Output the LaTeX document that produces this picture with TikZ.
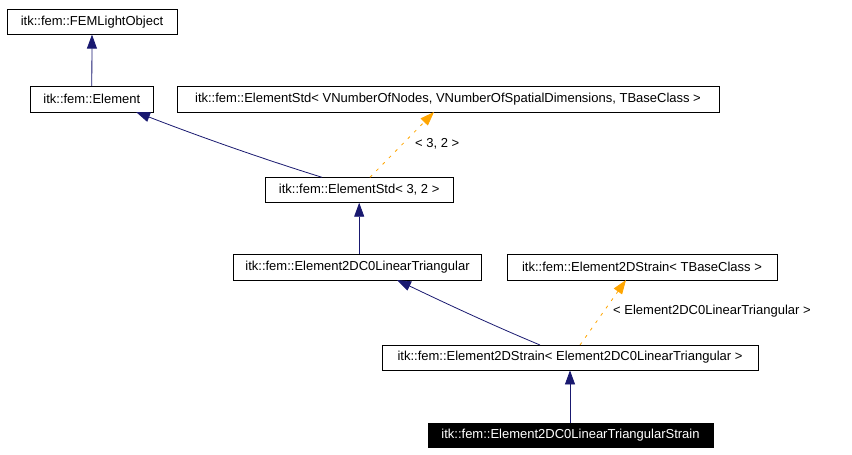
\documentclass[tikz,border=0pt]{standalone}
\usepackage{fontspec}
\setmainfont{Liberation Sans}
\usetikzlibrary{arrows.meta}
\definecolor{navy}{HTML}{191970}
\definecolor{orng}{HTML}{FFA500}
\tikzset{
  cls/.style={draw=black, line width=0.8pt, fill=white, inner sep=0pt, anchor=center, font=\fontsize{13}{15}\selectfont},
  cur/.style={cls, fill=black, text=white},
  inh/.style={draw=navy, line width=0.8pt, -{Triangle[length=14pt,width=10pt]}},
  tpl/.style={draw=orng, line width=0.8pt, dash pattern=on 3pt off 6pt, -{Triangle[length=14pt,width=10pt]}},
  lbl/.style={font=\fontsize{13}{15}\selectfont, inner sep=0pt, anchor=west}
}
\begin{document}
\begin{tikzpicture}[x=1pt,y=-1pt]
\useasboundingbox (0,0) rectangle (852,455);
\node[cls, minimum width=170pt, minimum height=25pt] (fem) at (92,21.7) {itk::fem::FEMLightObject};
\node[cls, minimum width=123pt, minimum height=25.5pt] (el) at (91.8,99.3) {itk::fem::Element};
\node[cls, minimum width=542pt, minimum height=25.5pt] (esvn) at (448,99.3) {itk::fem::ElementStd< VNumberOfNodes, VNumberOfSpatialDimensions, TBaseClass >};
\node[cls, minimum width=188pt, minimum height=25pt] (es32) at (359.2,189.8) {itk::fem::ElementStd< 3, 2 >};
\node[cls, minimum width=248.5pt, minimum height=25.5pt] (tri) at (357.5,267.2) {itk::fem::Element2DC0LinearTriangular};
\node[cls, minimum width=270pt, minimum height=26pt] (stb) at (642,267.2) {itk::fem::Element2DStrain< TBaseClass >};
\node[cls, minimum width=376pt, minimum height=25pt] (str) at (570,357.5) {itk::fem::Element2DStrain< Element2DC0LinearTriangular >};
\node[cur, minimum width=285pt, minimum height=24pt] (cur) at (570.5,435) {itk::fem::Element2DC0LinearTriangularStrain};
\coordinate (elend) at (136,112);
\coordinate (es32a) at (322,177.3);
\coordinate (es32b) at (370,177.3);
\coordinate (esvnend) at (434,112);
\coordinate (trie) at (397,280);
\coordinate (stra) at (540,345);
\coordinate (strb) at (580,345);
\coordinate (stbend) at (626,280);
\draw[inh] (el.north) -- (fem.south);
\draw[inh] (es32a) .. controls (260,158) and (198,136) .. (elend);
\draw[tpl] (es32b) -- (esvnend);
\node[lbl] (l32) at (415,144) {< 3, 2 >};
\draw[inh] (tri.north -| es32.south) -- (es32.south);
\draw[inh] (stra) .. controls (492,325) and (445,303) .. (trie);
\draw[tpl] (strb) -- (stbend);
\node[lbl] (lstr) at (613,311.5) {< Element2DC0LinearTriangular >};
\draw[inh] (cur.north -| str.south) -- (str.south);
\end{tikzpicture}
\end{document}
